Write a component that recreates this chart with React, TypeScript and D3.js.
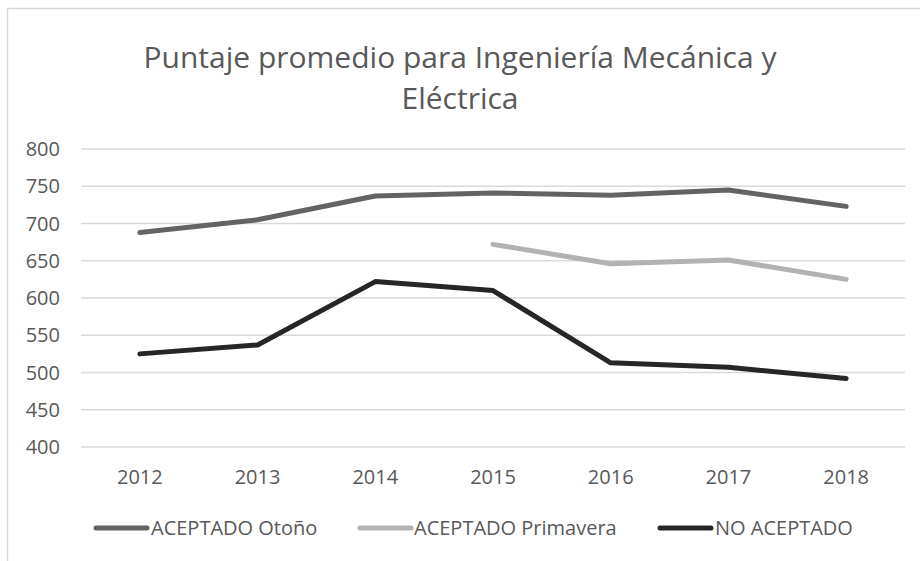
import React from "react";
import * as d3 from "d3";

const years = ["2012", "2013", "2014", "2015", "2016", "2017", "2018"];
const otono = [688, 705, 737, 741, 738, 745, 723];
const primavera: (number | null)[] = [null, null, null, 672, 646, 651, 625];
const noAceptado = [525, 537, 622, 610, 513, 507, 492];
const yTicks = [400, 450, 500, 550, 600, 650, 700, 750, 800];

const series = [
  { name: "ACEPTADO Otoño", values: otono as (number | null)[], color: "#636363", lx: 96, tx: 151 },
  { name: "ACEPTADO Primavera", values: primavera, color: "#b2b2b2", lx: 360, tx: 414 },
  { name: "NO ACEPTADO", values: noAceptado as (number | null)[], color: "#262626", lx: 660, tx: 715 },
];

const W = 920;
const H = 561;
const FONT = "'Open Sans', sans-serif";

export default function App() {
  const x = d3.scaleBand<string>().domain(years).range([81, 905]);
  const y = d3.scaleLinear().domain([400, 800]).range([447, 149]);
  const cx = (d: string) => (x(d) as number) + x.bandwidth() / 2;
  const line = d3
    .line<number | null>()
    .defined((d) => d !== null)
    .x((_, i) => cx(years[i]))
    .y((d) => y(d as number));

  return (
    <svg width={W} height={H} style={{ position: "absolute", left: 0, top: 0, background: "#fff" }}>
      <rect x={0} y={0} width={W} height={H} fill="#fff" />
      <rect x={7.5} y={8.5} width={W + 20} height={H + 20} fill="none" stroke="#d9d9d9" strokeWidth={1.5} />
      <text x={460} y={68} textAnchor="middle" fontFamily={FONT} fontSize={30} fill="#595959">
        Puntaje promedio para Ingeniería Mecánica y
      </text>
      <text x={460} y={109} textAnchor="middle" fontFamily={FONT} fontSize={30} fill="#595959">
        Eléctrica
      </text>
      {yTicks.map((t) => (
        <g key={t}>
          <line x1={81} x2={905} y1={y(t)} y2={y(t)} stroke="#d9d9d9" strokeWidth={1.5} />
          <text x={60} y={y(t)} dy="0.35em" textAnchor="end" fontFamily={FONT} fontSize={20} fill="#595959">
            {t}
          </text>
        </g>
      ))}
      {years.map((yr) => (
        <text key={yr} x={cx(yr)} y={477} dy="0.35em" textAnchor="middle" fontFamily={FONT} fontSize={20} fill="#595959">
          {yr}
        </text>
      ))}
      {series.map((s) => (
        <path key={s.name} d={line(s.values) || ""} fill="none" stroke={s.color} strokeWidth={5} strokeLinecap="round" strokeLinejoin="round" />
      ))}
      {series.map((s) => (
        <g key={s.name + "-leg"}>
          <line x1={s.lx} x2={s.lx + 51} y1={528} y2={528} stroke={s.color} strokeWidth={5} strokeLinecap="round" />
          <text x={s.tx} y={528} dy="0.35em" fontFamily={FONT} fontSize={20} fill="#595959">
            {s.name}
          </text>
        </g>
      ))}
    </svg>
  );
}
